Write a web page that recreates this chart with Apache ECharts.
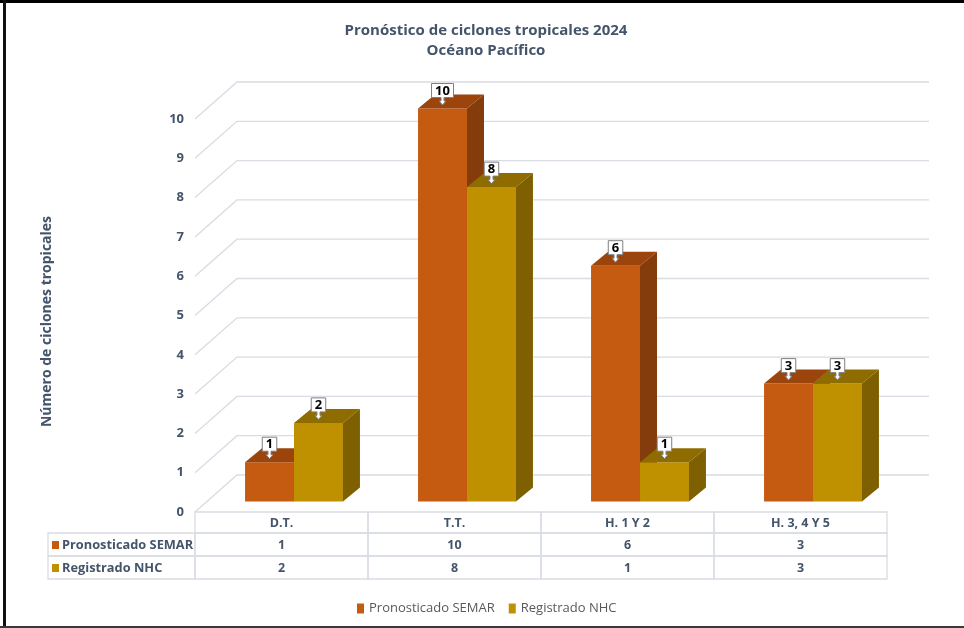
<!DOCTYPE html>
<html>
<head>
<meta charset="utf-8">
<script src="https://cdn.jsdelivr.net/npm/echarts@6/dist/echarts.min.js"></script>
<style>
  html, body { margin: 0; padding: 0; background: #ffffff; }
  #chart { width: 964px; height: 628px; }
</style>
</head>
<body>
<div id="chart"></div>
<script>
// Tropical cyclone forecast vs. recorded, Pacific Ocean 2024
const categories = ['D.T.', 'T.T.', 'H. 1 Y 2', 'H. 3, 4 Y 5'];
const semarValues = [1, 10, 6, 3];
const nhcValues = [2, 8, 1, 3];
const yTicks = [0, 1, 2, 3, 4, 5, 6, 7, 8, 9, 10];
const seriesNames = ['Pronosticado SEMAR', 'Registrado NHC'];

const FONT = '"Open Sans", "Noto Sans", sans-serif';
const TEXT = '#44546A';
const GRID_LINE = '#D9DCE3';

// face colours: front, top, side
const palettes = [
  { front: '#C55A11', top: '#9B450D', side: '#843C0C' },
  { front: '#BF9000', top: '#8F6C00', side: '#7F6000' }
];

// perspective of the box: wall depth and how far the bars stand inside it
const WALL = { dx: 42, dy: -37 };
const BAR_INSET = { dx: 12.5, dy: -10.5 };
const BAR_DEPTH = { dx: 17, dy: -14 };
const BAR_FRACTION = 0.283;

const chart = echarts.init(document.getElementById('chart'), null, { renderer: 'canvas' });

function wallRenderer(params, api) {
  const v = api.value(1);
  const p = api.coord([0, v]);
  const left = params.coordSys.x;
  const width = params.coordSys.width;
  return {
    type: 'polyline',
    shape: { points: [[left, p[1]], [left + WALL.dx, p[1] + WALL.dy], [left + width + WALL.dx, p[1] + WALL.dy]] },
    style: { stroke: GRID_LINE, lineWidth: 1.3, fill: null },
    silent: true
  };
}

function callout(cx, yTop, text) {
  const w = 7.5 * String(text).length + 7;
  const h = 14;
  const b = yTop - 11;
  const t = b - h;
  const l = cx - w / 2, r = cx + w / 2;
  return {
    type: 'group',
    children: [
      {
        type: 'polygon',
        shape: {
          points: [[l, t], [r, t], [r, b], [cx + 1.5, b], [cx + 1.5, b + 3.5], [cx + 3.5, b + 3.5], [cx, b + 7.5],
                   [cx - 3.5, b + 3.5], [cx - 1.5, b + 3.5], [cx - 1.5, b], [l, b]]
        },
        style: { fill: '#ffffff', stroke: '#7F7F7F', lineWidth: 1 }
      },
      {
        type: 'text',
        style: {
          x: cx, y: (t + b) / 2 + 0.5, text: String(text), align: 'center', verticalAlign: 'middle',
          fill: '#000000', font: 'bold 13px ' + FONT
        }
      }
    ]
  };
}

function barRenderer(s) {
  const pal = palettes[s];
  return function (params, api) {
    const idx = api.value(0);
    const v = api.value(1);
    const top = api.coord([idx, v]);
    const base = api.coord([idx, 0]);
    const bw = api.size([1, 0])[0] * BAR_FRACTION;
    const x0 = top[0] + (s === 0 ? -bw : 0) + BAR_INSET.dx;
    const x1 = x0 + bw;
    const yt = top[1] + BAR_INSET.dy;
    const yb = base[1] + BAR_INSET.dy;
    const d = BAR_DEPTH;
    return {
      type: 'group',
      children: [
        { type: 'rect', shape: { x: x0, y: yt, width: bw, height: yb - yt }, style: { fill: pal.front } },
        { type: 'polygon', shape: { points: [[x0, yt], [x1, yt], [x1 + d.dx, yt + d.dy], [x0 + d.dx, yt + d.dy]] }, style: { fill: pal.top } },
        { type: 'polygon', shape: { points: [[x1, yt], [x1 + d.dx, yt + d.dy], [x1 + d.dx, yb + d.dy], [x1, yb]] }, style: { fill: pal.side } },
        callout((x0 + x1) / 2, yt, v)
      ]
    };
  };
}

// data table under the plot: header row plus one row per series
const ROW_H = [21, 23, 23];
const LABEL_COL_W = 147;
function tableRenderer(params, api) {
  const idx = api.value(0);
  const c = api.coord([idx, 0]);
  const w = api.size([1, 0])[0];
  const xl = c[0] - w / 2;
  const rows = [categories[idx], semarValues[idx], nhcValues[idx]];
  const children = [];
  let y = c[1];
  rows.forEach(function (txt, r) {
    children.push({ type: 'rect', shape: { x: xl, y: y, width: w, height: ROW_H[r] }, style: { fill: null, stroke: GRID_LINE, lineWidth: 1.3 } });
    children.push({ type: 'text', style: { x: c[0], y: y + ROW_H[r] / 2 + 1, text: String(txt), align: 'center', verticalAlign: 'middle', fill: TEXT, font: 'bold 12.5px ' + FONT } });
    y += ROW_H[r];
  });
  if (idx === 0) {
    const lx = xl - LABEL_COL_W;
    let yy = c[1] + ROW_H[0];
    seriesNames.forEach(function (name, s) {
      children.push({ type: 'rect', shape: { x: lx, y: yy, width: LABEL_COL_W, height: ROW_H[s + 1] }, style: { fill: null, stroke: GRID_LINE, lineWidth: 1.3 } });
      children.push({ type: 'rect', shape: { x: lx + 4, y: yy + ROW_H[s + 1] / 2 - 3.5, width: 7, height: 8 }, style: { fill: palettes[s].front } });
      children.push({ type: 'text', style: { x: lx + 14, y: yy + ROW_H[s + 1] / 2 + 1, text: name, align: 'left', verticalAlign: 'middle', fill: TEXT, font: 'bold 12.8px ' + FONT } });
      yy += ROW_H[s + 1];
    });
  }
  return { type: 'group', children: children };
}

const option = {
  backgroundColor: '#ffffff',
  animation: false,
  title: {
    text: 'Pronóstico de ciclones tropicales 2024\nOcéano Pacífico',
    left: 481, top: 16, textAlign: 'center',
    textStyle: { color: TEXT, fontFamily: FONT, fontWeight: 'bold', fontSize: 15, lineHeight: 20 }
  },
  legend: {
    data: seriesNames,
    left: 352, top: 597,
    icon: 'rect', itemWidth: 7, itemHeight: 10, itemGap: 14,
    textStyle: { color: '#595959', fontFamily: FONT, fontSize: 13 }
  },
  grid: { left: 195, right: 77, top: 119, bottom: 116 },
  xAxis: {
    type: 'category', data: categories,
    axisLine: { show: false }, axisTick: { show: false }, axisLabel: { show: false }, splitLine: { show: false }
  },
  yAxis: {
    type: 'value', min: 0, max: 10, interval: 1,
    name: 'Número de ciclones tropicales', nameLocation: 'middle', nameGap: 141, nameRotate: 90,
    nameTextStyle: { color: TEXT, fontFamily: FONT, fontWeight: 'bold', fontSize: 14, padding: [0, 12, 0, 0] },
    axisLine: { show: false }, axisTick: { show: false }, splitLine: { show: false },
    axisLabel: { color: TEXT, fontFamily: FONT, fontWeight: 'bold', fontSize: 13, margin: 11 }
  },
  graphic: [
    { type: 'rect', shape: { x: 0, y: 0, width: 964, height: 3 }, style: { fill: '#000000' }, z: 100 },
    { type: 'rect', shape: { x: 3, y: 0, width: 3, height: 628 }, style: { fill: '#111111' }, z: 100 },
    { type: 'rect', shape: { x: 0, y: 626, width: 964, height: 2 }, style: { fill: '#3a3a3a' }, z: 100 }
  ],
  series: [
    { name: 'wall', type: 'custom', renderItem: wallRenderer, data: yTicks.map(function (v) { return [0, v]; }), z: 1, silent: true },
    { name: 'table', type: 'custom', renderItem: tableRenderer, data: categories.map(function (c, i) { return [i, 0]; }), z: 1, silent: true },
    { name: seriesNames[0], type: 'custom', renderItem: barRenderer(0), itemStyle: { color: palettes[0].front }, data: semarValues.map(function (v, i) { return [i, v]; }), z: 2 },
    { name: seriesNames[1], type: 'custom', renderItem: barRenderer(1), itemStyle: { color: palettes[1].front }, data: nhcValues.map(function (v, i) { return [i, v]; }), z: 3 }
  ]
};
chart.setOption(option);
</script>
</body>
</html>
